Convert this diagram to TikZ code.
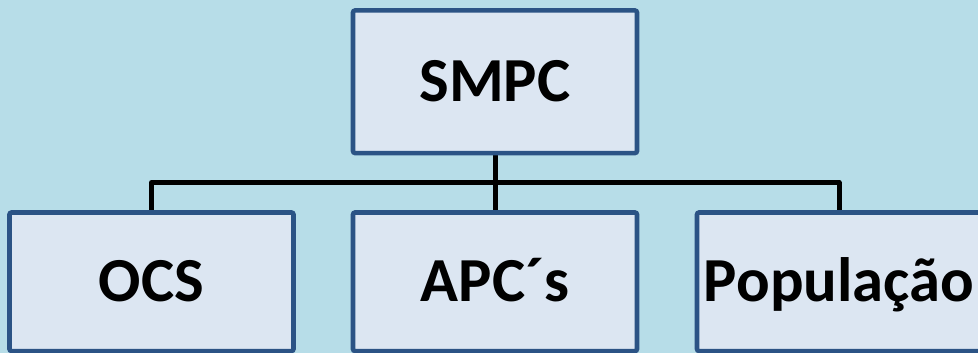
\documentclass[tikz,border=0pt]{standalone}
\usepackage{fontspec}
\setmainfont{Carlito}
\usetikzlibrary{backgrounds}
\definecolor{bgblue}{HTML}{B7DDE8}
\definecolor{boxfill}{HTML}{DCE6F2}
\definecolor{boxline}{HTML}{2B5385}
\tikzset{
  orgbox/.style={draw=boxline, fill=boxfill, line width=3.4pt, rounded corners=1.5pt,
    minimum width=213pt, inner sep=0pt, text height=30.3pt, text depth=0pt,
    font=\fontsize{47pt}{50pt}\selectfont\bfseries},
  topbox/.style={orgbox, minimum height=106.9pt},
  childbox/.style={orgbox, minimum height=103.9pt},
  link/.style={draw=black, line width=3.75pt, line join=round}
}
\begin{document}
\begin{tikzpicture}[x=0.75pt, y=-0.75pt]
  \useasboundingbox (0,0) rectangle (978,353);
  \clip (0,0) rectangle (978,353);
  \begin{pgfonlayer}{background}
    \fill[bgblue] (0,0) rectangle (978,353);
  \end{pgfonlayer}
  \node[topbox] (smpc) at (495,81.75) {SMPC};
  \node[childbox] (ocs) at (151.5,281.75) {OCS};
  \node[childbox] (apc) at (495,281.75) {APC´s};
  \node[childbox] (pop) at (839,281.75) {População};
  \coordinate (bus) at (495,182.5);
  \begin{pgfonlayer}{background}
    \draw[link] (smpc.south) -- (apc.north);
    \draw[link] (ocs.north) |- (bus) -| (pop.north);
  \end{pgfonlayer}
\end{tikzpicture}
\end{document}
